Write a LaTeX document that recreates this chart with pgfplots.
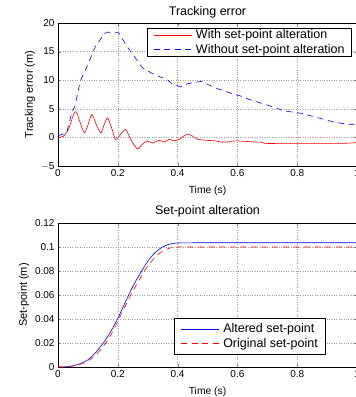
\documentclass[border=0pt]{standalone}
\usepackage{fontspec}
\setmainfont{Liberation Sans}
\usepackage{pgfplots}
\pgfplotsset{compat=1.18}
\begin{document}
\begin{tikzpicture}[x=1pt,y=1pt]
\pgfplotsset{
  every axis title shift=0pt,
  mystyle/.style={
    scale only axis, width=299pt, height=143pt,
    xmin=0, xmax=1,
    font=\fontsize{10}{12}\selectfont,
    /pgf/number format/assume math mode=true,
    tick align=inside, xtick pos=both, ytick pos=both,
    major tick length=3pt,
    grid=major, major grid style={dotted, gray!75, line width=0.45pt},
    axis line style={line width=0.5pt},
    xtick={0,0.2,0.4,0.6,0.8,1},
    xticklabels={0,0.2,0.4,0.6,0.8,1},
    xlabel={Time (s)},
    xlabel style={at={(axis description cs:0.5,0)}, anchor=base, yshift=-27.5pt, font=\fontsize{10.3}{12}\selectfont},
    ylabel style={font=\fontsize{11}{13}\selectfont, yshift=-1pt},
    title style={at={(axis description cs:0.5,1)}, anchor=base, yshift=8pt, font=\fontsize{12.5}{14}\selectfont},
    legend cell align=left,
    legend image code/.code={\draw[##1] (0pt,0pt) -- (38pt,0pt);},
    legend style={font=\fontsize{12.5}{14}\selectfont, draw=black, line width=0.5pt,
      column sep=3pt, nodes={inner sep=1pt}, row sep=2pt, inner xsep=6pt},
  }
}
% Top axis
\begin{axis}[mystyle, at={(58pt,231pt)}, anchor=south west,
  ymin=-5, ymax=20, ytick={-5,0,5,10,15,20},
  yticklabels={$-$5,0,5,10,15,20},
  ylabel={Tracking error (m)},
  title={Tracking error},
  legend style={at={(0.983,0.965)}, anchor=north east, inner ysep=0.5pt},
]
\addplot[color=red, draw=red, line width=0.6pt, smooth, tension=0.4] coordinates {
(0,0) (0.018,0.2) (0.035,1.4) (0.052,4.0) (0.061,4.5) (0.074,2.6) (0.088,0.8)
(0.099,2.0) (0.113,4.0) (0.130,2.0) (0.144,0.8) (0.155,2.3) (0.166,3.4)
(0.181,1.4) (0.192,-0.35) (0.203,0.1) (0.226,1.4) (0.243,-0.35) (0.265,-2.0)
(0.282,-1.2) (0.299,-0.6) (0.316,-1.0) (0.338,-0.5) (0.355,-0.8) (0.372,-0.35)
(0.389,-0.6) (0.406,-0.35) (0.417,0.1) (0.434,0.6) (0.451,0.2) (0.468,-0.35)
(0.497,-0.5) (0.524,-0.6) (0.546,-0.8) (0.569,-0.8) (0.591,-0.6) (0.658,-0.8)
(0.680,-0.85) (0.692,-1.05) (0.760,-1.05) (0.850,-1.05) (0.951,-1.05) (1.0,-0.9)
};
\addlegendentry{With set-point alteration}
\addplot[color=blue, draw=blue, dash pattern=on 6pt off 4.6pt, line width=0.6pt] coordinates {
(0,0.3) (0.029,0.8) (0.046,4.3) (0.057,5.5) (0.074,9.8) (0.097,12.4) (0.125,15.9)
(0.153,18.0) (0.162,18.4) (0.203,18.3) (0.231,15.9) (0.282,12.2) (0.321,11.0)
(0.366,10.1) (0.378,9.5) (0.411,8.8) (0.434,9.4) (0.479,9.8) (0.524,8.7)
(0.591,7.5) (0.614,7.2) (0.642,6.6) (0.703,5.6) (0.760,4.6) (0.816,4.2)
(0.872,3.4) (0.928,2.6) (0.973,2.3) (1.0,2.3)
};
\addlegendentry{Without set-point alteration}
\node[anchor=base west, inner sep=0pt, font=\fontsize{10.5}{12}\selectfont] at (rel axis cs:0.004,1.035) {x 10\textsuperscript{$-$4}};
\end{axis}
% Bottom axis
\begin{axis}[mystyle, at={(58pt,30pt)}, anchor=south west, height=144pt,
  ymin=0, ymax=0.12, ytick={0,0.02,0.04,0.06,0.08,0.1,0.12},
  yticklabels={0,0.02,0.04,0.06,0.08,0.1,0.12},
  ylabel={Set-point (m)},
  title={Set-point alteration},
  legend style={at={(0.893,0.09)}, anchor=south east, inner ysep=4pt},
]
\addplot[color=blue, draw=blue, line width=0.6pt, smooth] coordinates {
(0,0) (0.025,0.0002) (0.05,0.001) (0.075,0.0028) (0.1,0.006) (0.125,0.0118)
(0.15,0.0195) (0.175,0.029) (0.2,0.0405) (0.225,0.054) (0.25,0.067)
(0.275,0.078) (0.3,0.088) (0.325,0.0955) (0.35,0.1) (0.375,0.1025) (0.4,0.1033)
(0.45,0.1035) (0.6,0.1035) (0.8,0.1035) (1.0,0.1035)
};
\addlegendentry{Altered set-point}
\addplot[color=red, draw=red, dash pattern=on 6pt off 4.6pt, line width=0.6pt, smooth] coordinates {
(0,0) (0.025,0.0001) (0.05,0.0008) (0.075,0.0024) (0.1,0.005) (0.125,0.0098)
(0.15,0.0167) (0.175,0.026) (0.2,0.038) (0.225,0.051) (0.25,0.063)
(0.275,0.074) (0.3,0.084) (0.325,0.0915) (0.35,0.0965) (0.375,0.0992) (0.4,0.1)
(0.45,0.1) (0.6,0.1) (0.8,0.1) (1.0,0.1)
};
\addlegendentry{Original set-point}
\end{axis}
\pgfresetboundingbox
\path[use as bounding box] (0,0) rectangle (356,397);
\end{tikzpicture}
\end{document}
